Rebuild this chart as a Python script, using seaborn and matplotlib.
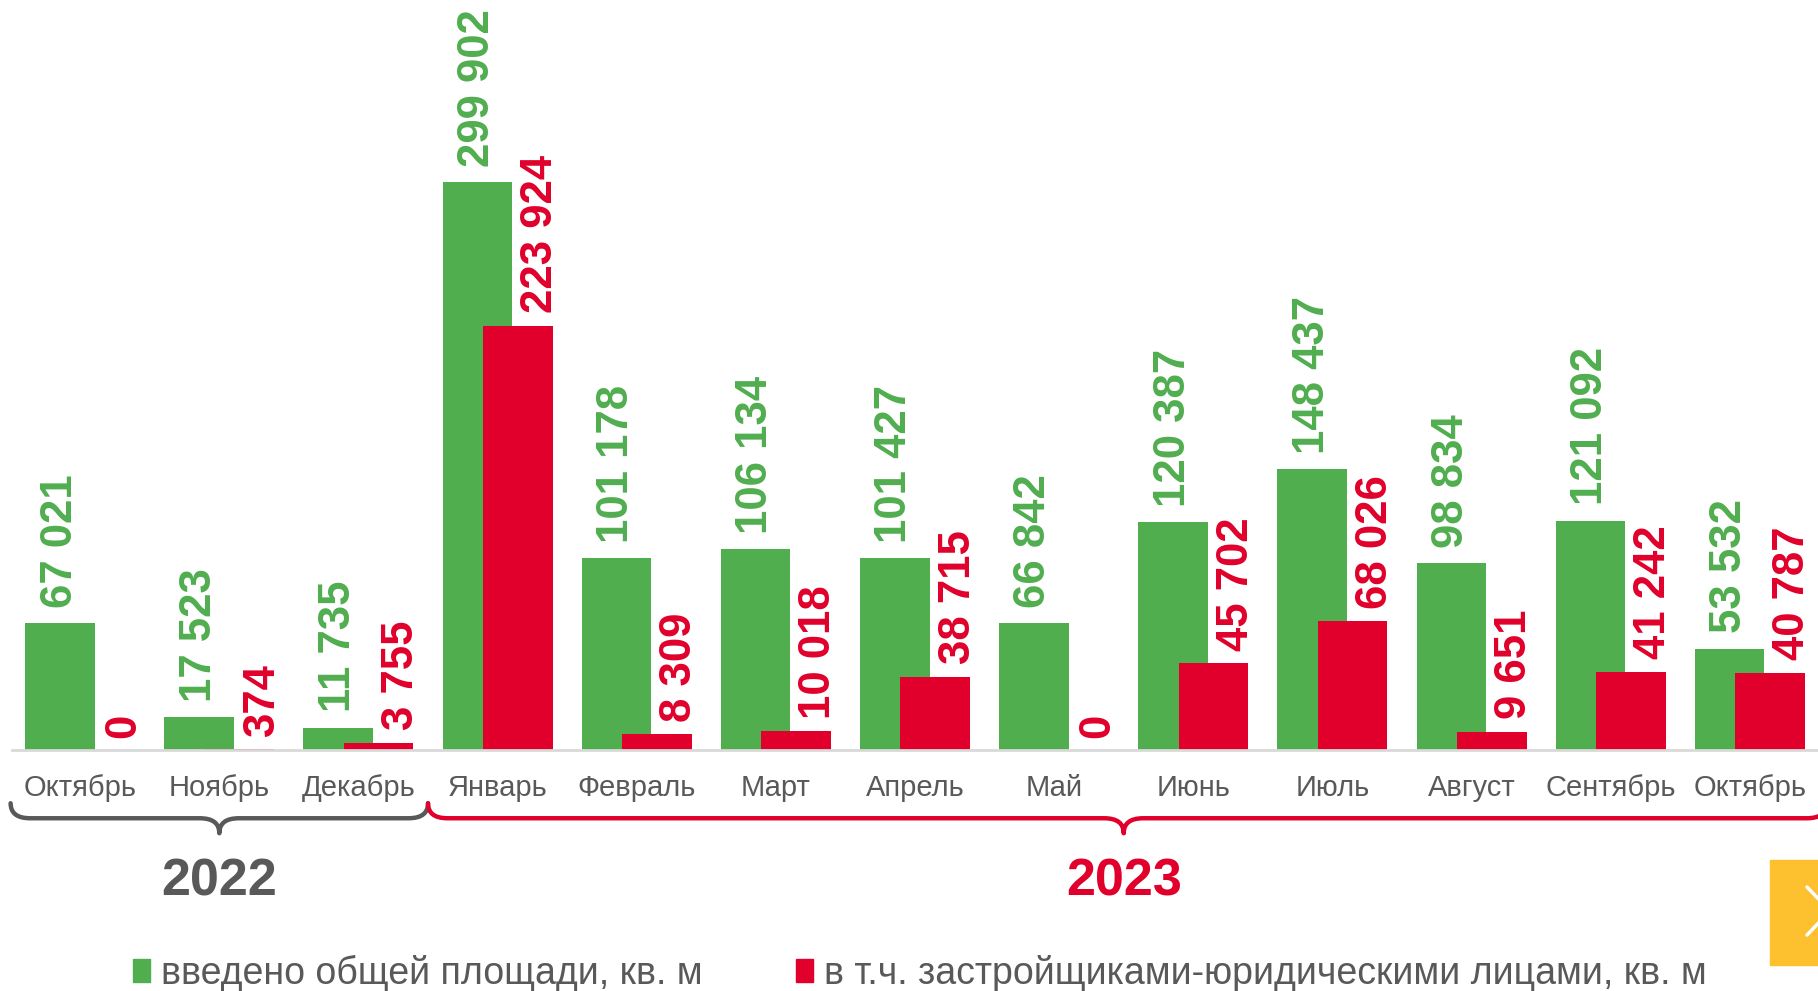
import numpy as np
import pandas as pd
import seaborn as sns
import matplotlib.pyplot as plt
from matplotlib.path import Path
from matplotlib.patches import PathPatch, Patch, Rectangle
from matplotlib.lines import Line2D

# Data
months = ['Октябрь', 'Ноябрь', 'Декабрь', 'Январь', 'Февраль', 'Март', 'Апрель',
          'Май', 'Июнь', 'Июль', 'Август', 'Сентябрь', 'Октябрь']
total_area = [67021, 17523, 11735, 299902, 101178, 106134, 101427,
              66842, 120387, 148437, 98834, 121092, 53532]
legal_area = [0, 374, 3755, 223924, 8309, 10018, 38715,
              0, 45702, 68026, 9651, 41242, 40787]
years = ['2022', '2023']
legend_labels = ['введено общей площади, кв. м',
                 'в т.ч. застройщиками-юридическими лицами, кв. м']

GREEN = '#50AE4F'
RED = '#E0002B'
GREY = '#595959'

sns.set_theme(style='white')
plt.rcParams['font.family'] = ['Liberation Sans', 'DejaVu Sans']

df = pd.DataFrame({'pos': np.arange(len(months)), 'month': months,
                   'total': total_area, 'legal': legal_area})

fig = plt.figure(figsize=(18.18, 9.91), dpi=100)
ax = fig.add_axes([12 / 1818, 241 / 991, 1 - 12 / 1818, 750 / 991])

shift = 0.145
sns.barplot(x=df.pos - shift, y=df.total, native_scale=True, width=0.5,
            color=GREEN, saturation=1, errorbar=None, linewidth=0, ax=ax)
sns.barplot(x=df.pos + shift, y=df.legal, native_scale=True, width=0.5,
            color=RED, saturation=1, errorbar=None, linewidth=0, ax=ax)

fmt = lambda v: f'{v:,}'.replace(',', ' ')
for p, g, r in zip(df.pos, df.total, df.legal):
    ax.annotate(fmt(g), (p - shift, g), xytext=(0, 11), textcoords='offset points',
                rotation=90, ha='center', va='bottom', fontsize=31.5,
                fontweight='bold', color=GREEN, annotation_clip=False)
    ax.annotate(fmt(r), (p + 0.31, r), xytext=(0, 9), textcoords='offset points',
                rotation=90, ha='center', va='bottom', fontsize=31.5,
                fontweight='bold', color=RED, annotation_clip=False)

ax.set_xlim(-0.49, 12.49)
ax.set_ylim(0, 396000)
ax.set_xticks(df.pos, months)
ax.set_yticks([])
ax.set_xlabel('')
ax.set_ylabel('')
ax.tick_params(axis='x', length=0, pad=17, labelsize=21, labelcolor=GREY)
sns.despine(ax=ax, left=True)
ax.spines['bottom'].set_color('#D9D9D9')
ax.spines['bottom'].set_linewidth(2)


# Curly braces under the month labels
def brace(x0, x1, xm, color):
    yt, yh, yc = -0.071, -0.091, -0.111
    r = 0.14
    verts = [(x0, yt), (x0, yh), (x0 + r, yh), (xm - r, yh), (xm, yh), (xm, yc),
             (xm, yh), (xm + r, yh), (x1 - r, yh), (x1, yh), (x1, yt)]
    codes = [Path.MOVETO, Path.CURVE3, Path.CURVE3, Path.LINETO, Path.CURVE3, Path.CURVE3,
             Path.CURVE3, Path.CURVE3, Path.LINETO, Path.CURVE3, Path.CURVE3]
    ax.add_patch(PathPatch(Path(verts, codes), fill=False, edgecolor=color, lw=3.2,
                           transform=ax.get_xaxis_transform(), clip_on=False,
                           capstyle='round', joinstyle='round'))


brace(-0.5, 2.5, 1.0, GREY)
brace(2.5, 12.55, 7.5, RED)
ax.text(1.0, -0.176, years[0], transform=ax.get_xaxis_transform(), ha='center',
        va='center', fontsize=37.5, fontweight='bold', color=GREY)
ax.text(7.5, -0.176, years[1], transform=ax.get_xaxis_transform(), ha='center',
        va='center', fontsize=37.5, fontweight='bold', color=RED)

# Legend
handles = [Patch(color=GREEN), Patch(color=RED)]
fig.legend(handles, legend_labels, loc='center', bbox_to_anchor=(0.506, 0.018),
           ncol=2, frameon=False, fontsize=27, labelcolor=GREY,
           handlelength=0.45, handleheight=0.55, handletextpad=0.3,
           columnspacing=2.5, borderaxespad=0)

# Yellow side button
fig.patches.append(Rectangle((1770 / 1818, 26 / 991), 60 / 1818, 105 / 991,
                             transform=fig.transFigure, color='#FDC02F', zorder=5))
fig.lines.append(Line2D([1807 / 1818, 1830 / 1818, 1807 / 1818],
                        [104 / 991, 80 / 991, 56 / 991], transform=fig.transFigure,
                        color='white', lw=2.5, zorder=6))

fig.savefig('out.png', dpi=100)
